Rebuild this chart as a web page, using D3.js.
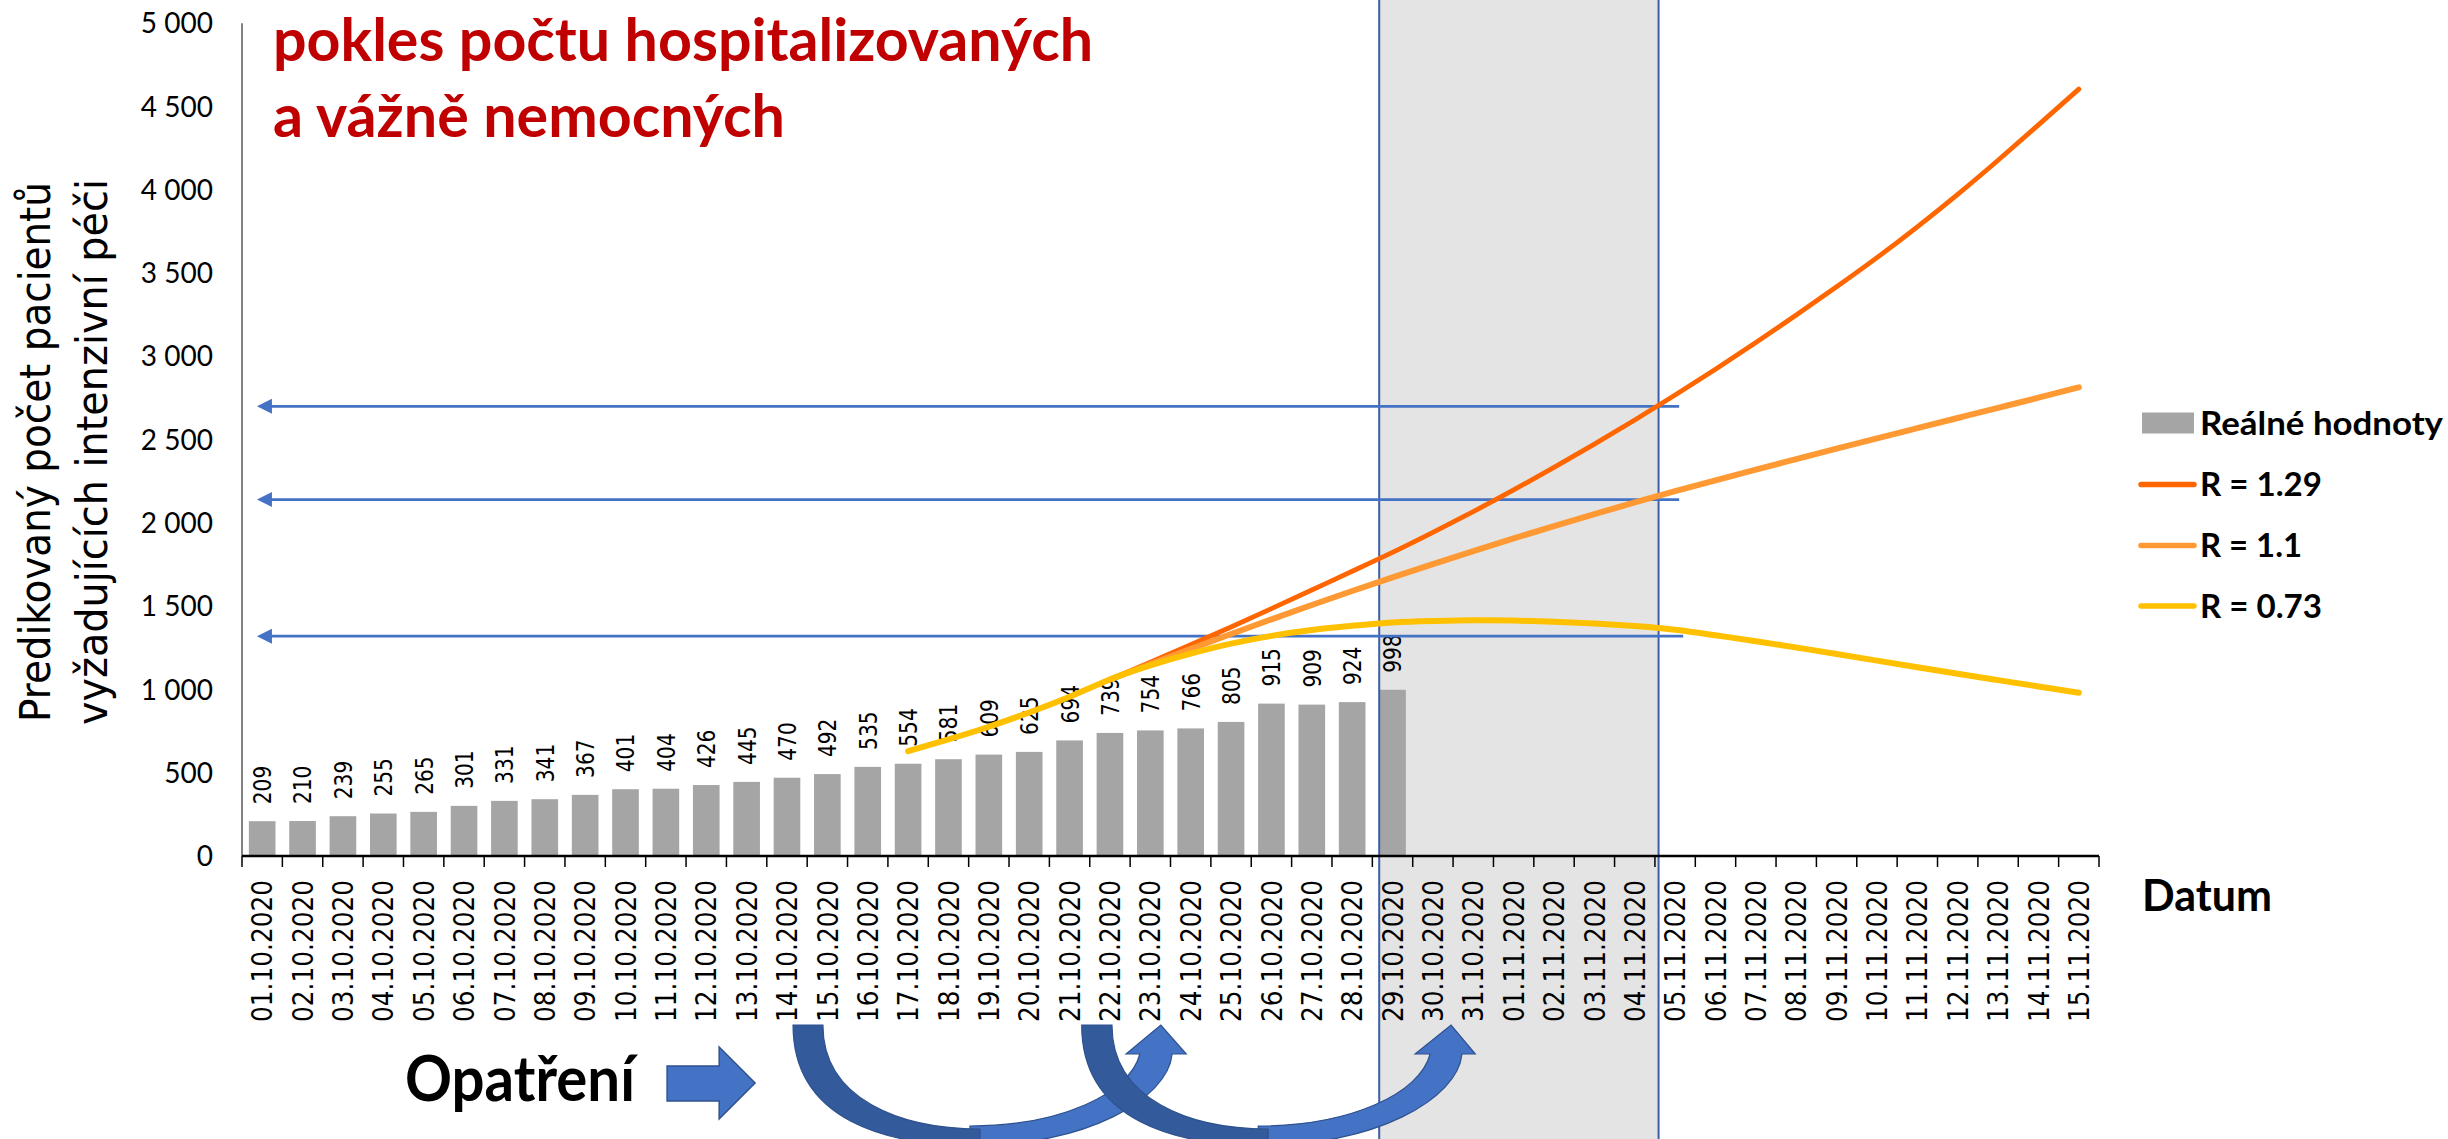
<!DOCTYPE html>
<html><head><meta charset="utf-8">
<script src="https://cdn.jsdelivr.net/npm/d3@7"></script>
<style>html,body{margin:0;padding:0;background:#fff;overflow:hidden}</style>
</head><body>
<svg id="chart" width="2448" height="1139"></svg>
<script>
// ---------- DATA ----------
const categories = [
  "01.10.2020","02.10.2020","03.10.2020","04.10.2020","05.10.2020","06.10.2020","07.10.2020","08.10.2020",
  "09.10.2020","10.10.2020","11.10.2020","12.10.2020","13.10.2020","14.10.2020","15.10.2020","16.10.2020",
  "17.10.2020","18.10.2020","19.10.2020","20.10.2020","21.10.2020","22.10.2020","23.10.2020","24.10.2020",
  "25.10.2020","26.10.2020","27.10.2020","28.10.2020","29.10.2020","30.10.2020","31.10.2020","01.11.2020",
  "02.11.2020","03.11.2020","04.11.2020","05.11.2020","06.11.2020","07.11.2020","08.11.2020","09.11.2020",
  "10.11.2020","11.11.2020","12.11.2020","13.11.2020","14.11.2020","15.11.2020"
];
const realValues = [209,210,239,255,265,301,331,341,367,401,404,426,445,470,492,535,554,581,609,625,694,739,754,766,805,915,909,924,998];
const r129Start = "22.10.2020";
const r129Values = [1060,1163,1268,1375,1485,1597,1710,1823,1943,2068,2198,2333,2473,2618,2768,2923,3083,3248,3418,3593,3778,3973,4178,4390,4605];
const r11Start = "22.10.2020";
const r11Values = [1060,1152,1243,1333,1421,1507,1591,1673,1753,1831,1907,1981,2053,2123,2191,2256,2320,2383,2446,2508,2569,2630,2691,2752,2814];
const r073Start = "17.10.2020";
const r073Values = [630,700,776,862,956,1060,1145,1215,1275,1322,1357,1382,1402,1411,1416,1414,1406,1396,1381,1358,1325,1290,1252,1213,1173,1133,1094,1056,1018,980];
const yTicks = [0,500,1000,1500,2000,2500,3000,3500,4000,4500,5000];
const arrowValues = [2700, 2140, 1320];
const seriesNames = ["Reálné hodnoty","R = 1.29","R = 1.1","R = 0.73"];
const titleLines = ["pokles počtu hospitalizovaných","a vážně nemocných"];
const yTitleLines = ["Predikovaný počet pacientů","vyžadujících intenzivní péči"];

// ---------- SETUP ----------
const W = 2448, H = 1139;
const svg = d3.select("#chart");
const plot = {left:242, right:2099, top:23.3, bottom:856};
const x = d3.scaleBand().domain(categories).range([plot.left, plot.right]).paddingInner(0.34).paddingOuter(0.17);
const step = x.step();
const bx = i => plot.left + i*step;           // position in band units
const cx = c => x(c) + x.bandwidth()/2;
const y = d3.scaleLinear().domain([0,5000]).range([plot.bottom, plot.top]);

function seriesFrom(start, vals){
  const s = categories.indexOf(start);
  return vals.map((v,i)=>({c:categories[s+i], v}));
}

// shaded forecast window
const shadeL = bx(28.17), shadeR = bx(35.09);
svg.append("rect").attr("x",shadeL).attr("y",0).attr("width",shadeR-shadeL).attr("height",H).attr("fill","#e4e4e4");

// bars
svg.append("g").selectAll("rect").data(realValues).join("rect")
  .attr("x",(d,i)=>x(categories[i])).attr("y",d=>y(d))
  .attr("width",x.bandwidth()).attr("height",d=>y(0)-y(d)).attr("fill","#a5a5a5");

// vertical lines
[shadeL, shadeR].forEach(v=>{
  svg.append("line").attr("x1",v).attr("x2",v).attr("y1",0).attr("y2",H)
    .attr("stroke","#3b5ea8").attr("stroke-width",2);
});

// axes
svg.append("line").attr("x1",plot.left).attr("x2",plot.left).attr("y1",plot.top).attr("y2",plot.bottom)
  .attr("stroke","#595959").attr("stroke-width",1.5);
svg.append("line").attr("x1",plot.left).attr("x2",plot.right).attr("y1",y(0)).attr("y2",y(0))
  .attr("stroke","#000").attr("stroke-width",2.5);
svg.append("g").selectAll("line").data(d3.range(categories.length+1)).join("line")
  .attr("x1",i=>bx(i)).attr("x2",i=>bx(i)).attr("y1",y(0)).attr("y2",y(0)+11)
  .attr("stroke","#000").attr("stroke-width",1.5);

// y tick labels
svg.append("g").selectAll("text").data(yTicks).join("text")
  .attr("x",213).attr("y",d=>y(d)).attr("dy","0.36em").attr("text-anchor","end")
  .attr("font-family","Lato").attr("font-size",28).attr("fill","#000")
  .text(d=>d3.format(",")(d).replace(/,/g," "));

// x tick labels
svg.append("g").selectAll("text").data(categories).join("text")
  .attr("transform",d=>`translate(${cx(d)},880) rotate(-90) scale(0.855,1)`)
  .attr("dy","0.35em").attr("text-anchor","end")
  .attr("font-family","DejaVu Sans").attr("font-size",29).attr("fill","#000")
  .text(d=>d);

// bar value labels
svg.append("g").selectAll("text").data(realValues).join("text")
  .attr("transform",(d,i)=>`translate(${cx(categories[i])},${y(d)-17}) rotate(-90) scale(0.79,1)`)
  .attr("dy","0.35em").attr("text-anchor","start")
  .attr("font-family","DejaVu Sans").attr("font-size",25.5).attr("fill","#000")
  .text(d=>d);

// horizontal arrows
const arrowEnds = [35.6, 35.6, 35.7];
arrowValues.forEach((v,k)=>{
  const yy = y(v), x0 = bx(0.37);
  svg.append("line").attr("x1",x0+6).attr("x2",bx(arrowEnds[k])).attr("y1",yy).attr("y2",yy)
    .attr("stroke","#4472c4").attr("stroke-width",2.6);
  svg.append("path").attr("d",`M${x0},${yy} L${x0+15},${yy-7.5} L${x0+15},${yy+7.5} Z`).attr("fill","#4472c4");
});

// prediction lines
const line = d3.line().x(d=>cx(d.c)).y(d=>y(d.v)).curve(d3.curveNatural);
const lineSeries = [
  {data:seriesFrom(r129Start,r129Values), color:"#ff6600", w:4.8},
  {data:seriesFrom(r11Start,r11Values), color:"#ff9933", w:6},
  {data:seriesFrom(r073Start,r073Values), color:"#ffc000", w:6}
];
lineSeries.forEach(s=>{
  svg.append("path").attr("d",line(s.data)).attr("fill","none").attr("stroke",s.color)
    .attr("stroke-width",s.w).attr("stroke-linecap","round").attr("stroke-linejoin","round");
});

// title
[[titleLines[0],61,820],[titleLines[1],137,512]].forEach(([t,yy,len])=>{
  svg.append("text").attr("x",273).attr("y",yy).attr("font-family","Lato").attr("font-weight","bold")
    .attr("font-size",60).attr("fill","#c00000").attr("textLength",len).attr("lengthAdjust","spacingAndGlyphs").text(t);
});

// y axis title
[[yTitleLines[0],50,540],[yTitleLines[1],107,546]].forEach(([t,xx,len])=>{
  svg.append("text").attr("transform",`translate(${xx},452) rotate(-90)`).attr("text-anchor","middle")
    .attr("font-family","DejaVu Sans").attr("font-size",42).attr("fill","#000")
    .attr("textLength",len).attr("lengthAdjust","spacingAndGlyphs").text(t);
});

// legend
const legY = [423, 484.5, 545.5, 606];
svg.append("rect").attr("x",2142).attr("y",legY[0]-10.5).attr("width",52).attr("height",21).attr("fill","#a5a5a5");
lineSeries.forEach((s,k)=>{
  svg.append("line").attr("x1",2141).attr("x2",2194).attr("y1",legY[k+1]).attr("y2",legY[k+1])
    .attr("stroke",s.color).attr("stroke-width",5.5).attr("stroke-linecap","round");
});
const legLen = [243,122,102,122];
seriesNames.forEach((n,k)=>{
  svg.append("text").attr("x",2200).attr("y",legY[k]).attr("dy","0.36em")
    .attr("font-family","Lato").attr("font-weight","bold").attr("font-size",32).attr("fill","#000")
    .attr("textLength",legLen[k]).attr("lengthAdjust","spacingAndGlyphs").text(n);
});

// x axis title
svg.append("text").attr("x",2142).attr("y",911).attr("font-family","Lato").attr("font-weight","bold")
  .attr("font-size",43).attr("fill","#000").attr("textLength",130).attr("lengthAdjust","spacingAndGlyphs").text("Datum");

// "Opatření" annotation
svg.append("text").attr("x",405).attr("y",1101).attr("font-family","Lato").attr("font-weight","bold")
  .attr("font-size",63).attr("fill","#000").attr("textLength",230).attr("lengthAdjust","spacingAndGlyphs").text("Opatření");
{
  const a=bx(10.53), b=bx(11.82), t=bx(12.71);
  svg.append("path").attr("d",`M${a},1066 L${b},1066 L${b},1047 L${t},1083 L${b},1119 L${b},1101 L${a},1101 Z`)
    .attr("fill","#4472c4").attr("stroke","#2f528f").attr("stroke-width",1.5);
}

// curved arrows
function curvedArrow(p){
  const tL=bx(p.tailL), tR=bx(p.tailR), bm=bx(p.bottom), sL=bx(p.shaftL), sR=bx(p.shaftR),
        hL=bx(p.headL), hR=bx(p.headR), tp=bx(p.tip);
  const yT=1025, yHB=1054, yBO=1146, yBI=1126;
  const light = `M${bm-10},${yBO} C${bm+(sR-bm)*0.55},${yBO} ${sR-4},${yHB+45} ${sR},${yHB} L${hR},${yHB} L${tp},${yT} L${hL},${yHB} L${sL},${yHB}`+
    ` C${sL-10},${yHB+40} ${bm+(sL-bm)*0.5},${yBI} ${bm-10},${yBI} Z`;
  const dark = `M${tL},${yT} C${tL},${yBO-25} ${bm-(bm-tL)*0.5},${yBO} ${bm},${yBO} L${bm},${yBI+3}`+
    ` C${bm-(bm-tR)*0.5},${yBI+3} ${tR},${yT+75} ${tR},${yT} Z`;
  svg.append("path").attr("d",light).attr("fill","#4472c4").attr("stroke","#2f528f").attr("stroke-width",1.2);
  svg.append("path").attr("d",dark).attr("fill","#335a9a").attr("stroke","#2f528f").attr("stroke-width",1.2);
}
curvedArrow({tailL:13.65,tailR:14.39,bottom:18.28,shaftL:22.24,shaftR:23.04,headL:21.9,headR:23.39,tip:22.76});
curvedArrow({tailL:20.8,tailR:21.55,bottom:25.42,shaftL:29.43,shaftR:30.22,headL:29.06,headR:30.55,tip:29.95});
</script>
</body></html>
